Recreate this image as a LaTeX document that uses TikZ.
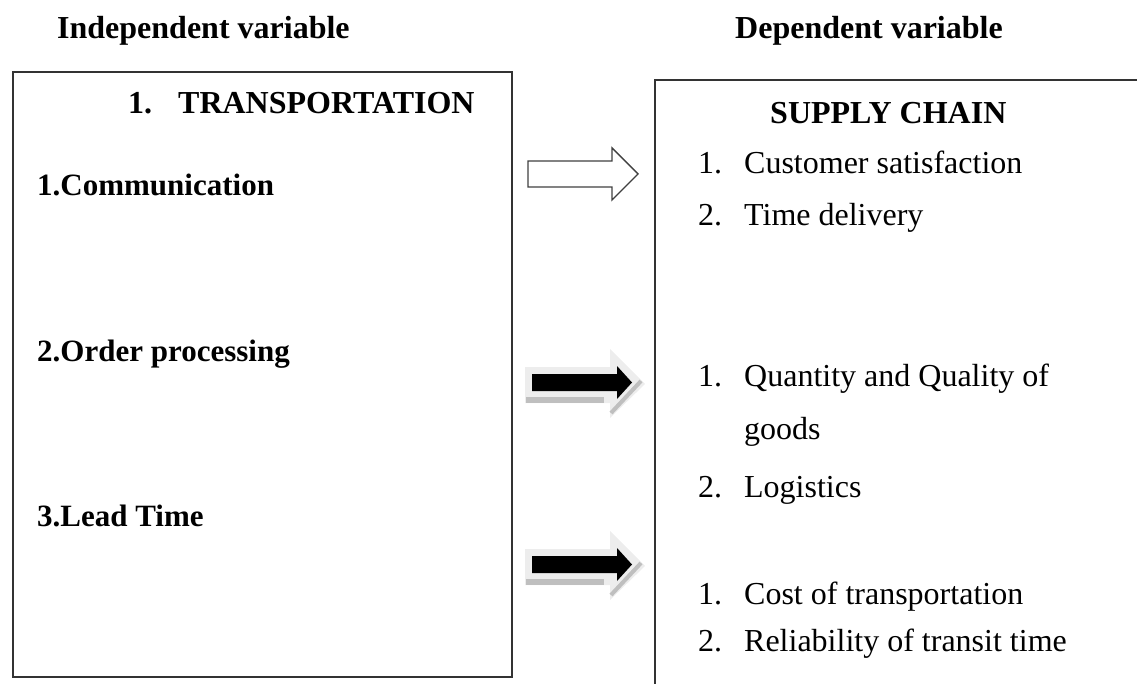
\documentclass[tikz,border=0pt]{standalone}
\usepackage{fontspec}
\setmainfont{Liberation Serif}
\usetikzlibrary{positioning}

\begin{document}
\begin{tikzpicture}[x=1pt, y=-1pt,
        frame/.style={draw=black!80, line width=1.6pt, fill=white, inner sep=0pt, anchor=north west},
        head/.style={anchor=base west, inner sep=0pt, font=\fontsize{32}{38}\selectfont\bfseries},
        factor/.style={anchor=base west, inner sep=0pt, font=\fontsize{31}{36}\selectfont\bfseries},
        entry/.style={anchor=base west, inner sep=0pt, font=\fontsize{32}{38}\selectfont},
        shade/.style={fill=black!7, draw=none}]
        \useasboundingbox (0,0) rectangle (1137,684);

        % Boxes
        \node[frame, minimum width=499pt, minimum height=605pt] at (12,71)  (indep) {};
        \node[frame, minimum width=520pt, minimum height=660pt] at (654,79) (dep)   {};

        % Headings
        \node[head] at (57,39)   (indephead) {Independent variable};
        \node[head] at (735,39)  (dephead)   {Dependent variable};

        % Left box
        \node[head]   at (128,114) (transport) {\makebox[50pt][l]{1.}TRANSPORTATION};
        \node[factor] at (37,196)  (comm)      {1.Communication};
        \node[factor] at (37,361)  (order)     {2.Order processing};
        \node[factor] at (37,526)  (lead)      {3.Lead Time};

        % Right box
        \node[head]  at (770,124) (supply) {SUPPLY CHAIN};
        \node[entry] at (698,174) (satis)  {\makebox[46pt][l]{1.}Customer satisfaction};
        \node[entry] at (698,226) (deliv)  {\makebox[46pt][l]{2.}Time delivery};
        \node[entry] at (698,386) (qual)   {\makebox[46pt][l]{1.}Quantity and Quality of};
        \node[entry] at (744,439) (goods)  {goods};
        \node[entry] at (698,497) (logist) {\makebox[46pt][l]{2.}Logistics};
        \node[entry] at (698,604) (cost)   {\makebox[46pt][l]{1.}Cost of transportation};
        \node[entry] at (698,651) (relia)  {\makebox[46pt][l]{2.}Reliability of transit time};

        % Arrows
        \draw[draw=black!75, line width=1.4pt, fill=white, line join=miter]
            (528,161) -- (612,161) -- (612,148) -- (638,174) -- (612,200) -- (612,187) -- (528,187) -- cycle;

        \foreach \dy in {0,182} {
            \fill[shade] (525,367+\dy) -- (610,367+\dy) -- (610,349+\dy) -- (645,384+\dy)
                -- (610,418+\dy) -- (610,403+\dy) -- (525,403+\dy) -- cycle;
            \fill[black!25] (526,397+\dy) rectangle (604,403+\dy);
            \draw[black!25, line width=4pt] (611,413+\dy) -- (641,381+\dy);
            \fill[black] (532,374+\dy) -- (617,374+\dy) -- (617,366+\dy) -- (632,382.5+\dy)
                -- (617,399+\dy) -- (617,391+\dy) -- (532,391+\dy) -- cycle;
        }
    \end{tikzpicture}
\end{document}
